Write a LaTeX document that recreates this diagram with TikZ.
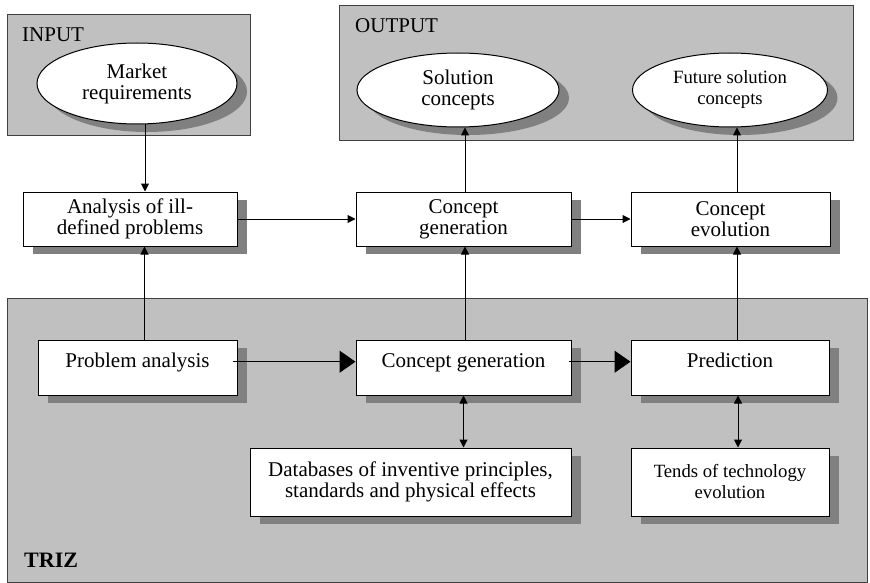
\documentclass[tikz,border=0pt]{standalone}
\usepackage{fontspec}
\setmainfont{Liberation Serif}
\usepackage{tikz}
\usetikzlibrary{shapes.geometric,shadows,arrows.meta}
\definecolor{areagray}{HTML}{C0C0C0}
\definecolor{shadegray}{HTML}{808080}
\definecolor{framegray}{HTML}{404040}

\begin{document}
\begin{tikzpicture}[x=1pt,y=-1pt,font=\fontsize{21}{21}\selectfont]
\tikzstyle{every node}+=[inner sep=0pt]
\tikzstyle{shade}=[drop shadow={shadow xshift=10pt,shadow yshift=-8pt,fill=shadegray,opacity=1}]
\tikzstyle{box}=[draw=black,fill=white,line width=1pt,align=center,shade]
\tikzstyle{trizbox}=[box,text height=21pt,text depth=22pt,inner ysep=6pt]
\tikzstyle{oval}=[ellipse,draw=black,fill=white,line width=1pt,align=center,shade]
\tikzstyle{smalltext}=[font=\fontsize{18.7}{21}\selectfont]
\tikzstyle{boldtext}=[font=\fontsize{22}{24}\selectfont\bfseries]
\tikzstyle{area}=[draw=framegray,fill=areagray,line width=1pt]
\tikzstyle{arr}=[line width=1pt,-{Triangle[length=8pt,width=8pt]}]
\tikzstyle{twoarr}=[line width=1pt,{Triangle[length=8pt,width=8pt]}-{Triangle[length=8pt,width=8pt]}]
\tikzstyle{bigarr}=[line width=1.2pt,-{Triangle[length=16pt,width=22pt]}]
\useasboundingbox (0,0) rectangle (870,583);
\fill[white] (0,0) rectangle (870,583);
\draw[area] (7,15) rectangle (250,136);
\draw[area] (339,6) rectangle (853,141);
\draw[area] (7,298) rectangle (867,582);
\node[anchor=west] (inlab) at (22,35) {INPUT};
\node[anchor=west] (outlab) at (355,26) {OUTPUT};
\node[anchor=west,boldtext] (trizlab) at (24,560) {TRIZ};
\node[oval,minimum width=200pt,minimum height=81pt] (mr) at (137,83.5) {Market\\requirements};
\node[oval,minimum width=202pt,minimum height=74pt] (sc) at (458,90) {Solution\\concepts};
\node[oval,smalltext,minimum width=195pt,minimum height=74pt] (fs) at (730,90) {Future solution\\concepts};
\node[box,minimum width=214pt,minimum height=54pt] (an) at (130,219) {Analysis of ill-\\defined problems};
\node[box,minimum width=215pt,minimum height=54pt] (cgu) at (463.5,219) {Concept\\generation};
\node[box,minimum width=199pt,minimum height=54pt] (ce) at (730.5,219) {Concept\\evolution};
\node[trizbox,minimum width=199pt] (pa) at (137.5,367.5) {Problem analysis};
\node[trizbox,minimum width=215pt] (cgt) at (463.5,367.5) {Concept generation};
\node[trizbox,minimum width=198pt] (pr) at (730,367.5) {Prediction};
\node[box,minimum width=321pt,minimum height=68pt] (db) at (410.5,482) {Databases of inventive principles,\\standards and physical effects};
\node[box,smalltext,minimum width=198pt,minimum height=68pt] (td) at (730,482) {Tends of technology\\evolution};
\draw[arr] ([xshift=15pt]an.north |- mr.south) -- ([xshift=15pt]an.north);
\draw[arr] ([xshift=7pt]pa.north) -- ([xshift=7pt]pa.north |- an.south);
\draw[arr] (an.east) -- (cgu.west);
\draw[arr] (cgu.east) -- (ce.west);
\draw[arr] ([xshift=1.5pt]cgu.north) -- ([xshift=1.5pt]cgu.north |- sc.south);
\draw[arr] ([xshift=6.5pt]ce.north) -- ([xshift=6.5pt]ce.north |- fs.south);
\draw[arr] ([xshift=1.5pt]cgt.north) -- ([xshift=1.5pt]cgu.south);
\draw[arr] ([xshift=7pt]pr.north) -- ([xshift=7pt]pr.north |- ce.south);
\draw[twoarr] (cgt.south) -- (cgt.south |- db.north);
\draw[twoarr] ([xshift=8pt]pr.south) -- ([xshift=8pt]td.north);
\draw[bigarr] ([xshift=-5pt,yshift=3pt]pa.mid east) -- ([yshift=3pt]cgt.mid west);
\draw[bigarr] ([xshift=-3pt,yshift=3pt]cgt.mid east) -- ([yshift=3pt]pr.mid west);
\end{tikzpicture}
\end{document}
